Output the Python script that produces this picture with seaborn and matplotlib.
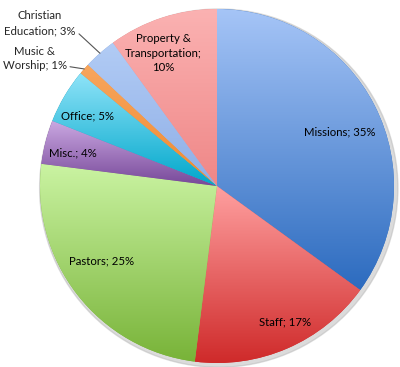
import numpy as np
import matplotlib
matplotlib.use("Agg")
import matplotlib.pyplot as plt
import seaborn as sns
from matplotlib.colors import LinearSegmentedColormap

# data: share of budget, clockwise from 12 o'clock
categories = ["Missions", "Staff", "Pastors", "Misc.", "Office",
              "Music &\nWorship", "Christian\nEducation", "Property &\nTransportation;\n"]
values = [35, 17, 25, 4, 5, 1, 3, 10]

# light (top) -> dark (bottom) gradient per slice
light_colors = ["#a6c5f7", "#ffa0a0", "#caf3a2", "#cba9e2", "#8fe3f8", "#f8a65e", "#b2ccf5", "#fbb2b2"]
dark_colors = ["#2c6bbf", "#cf2a2a", "#78b338", "#774899", "#00a7cb", "#ef8a30", "#8eaee6", "#ef8787"]

sns.set_theme(style="white")
plt.rcParams["font.family"] = ["Lato", "DejaVu Sans"]

fig = plt.figure(figsize=(4.0, 3.67), dpi=100)
ax = fig.add_axes([0, 0, 1, 1])

# soft shadow behind the pie
ax.add_patch(plt.Circle((0.01, -0.012), 1.012, color="#b8b8b8", alpha=0.5, zorder=0))

wedges, _ = ax.pie(values, startangle=90, counterclock=False, radius=1,
                   colors=dark_colors, wedgeprops=dict(edgecolor="none"))

grad = np.linspace(0, 1, 256).reshape(-1, 1)
for w, c1, c2 in zip(wedges, light_colors, dark_colors):
    t = np.radians(np.linspace(w.theta1, w.theta2, 200))
    xs = np.concatenate([[0], np.cos(t)])
    ys = np.concatenate([[0], np.sin(t)])
    cmap = LinearSegmentedColormap.from_list("g", [c1, c2])
    im = ax.imshow(grad, cmap=cmap, aspect="auto", origin="upper",
                   extent=[xs.min(), xs.max(), ys.min(), ys.max()], zorder=2)
    im.set_clip_path(w)

# label layout (data coords, pie radius = 1)
inside_pos = {0: (0.695, 0.305), 1: (0.384, -0.768), 2: (-0.655, -0.424),
              3: (-0.814, 0.186), 4: (-0.729, 0.395), 7: (-0.305, 0.751)}
outside_pos = {5: (-1.03, 0.72), 6: (-1.0, 0.92)}

for i, (name, v) in enumerate(zip(categories, values)):
    if name.endswith("\n"):
        txt = f"{name}{v}%"
    else:
        txt = f"{name}; {v}%"
    if i in inside_pos:
        ax.text(*inside_pos[i], txt, ha="center", va="center", fontsize=8.2,
                color="black", linespacing=1.4, zorder=5)
    else:
        w = wedges[i]
        mid = np.radians((w.theta1 + w.theta2) / 2)
        ax.annotate(txt, xy=(np.cos(mid), np.sin(mid)), xytext=outside_pos[i],
                    ha="center", va="center", fontsize=8.2, linespacing=1.4, zorder=5,
                    arrowprops=dict(arrowstyle="-", color="#555555", lw=0.8,
                                    relpos=(1.0, 0.2), shrinkA=0, shrinkB=0))

ax.set_xlim(-217 / 177, 183 / 177)
ax.set_ylim(-181 / 177, 186 / 177)
ax.set_aspect("equal")
ax.axis("off")

fig.savefig("out.png", dpi=100)
